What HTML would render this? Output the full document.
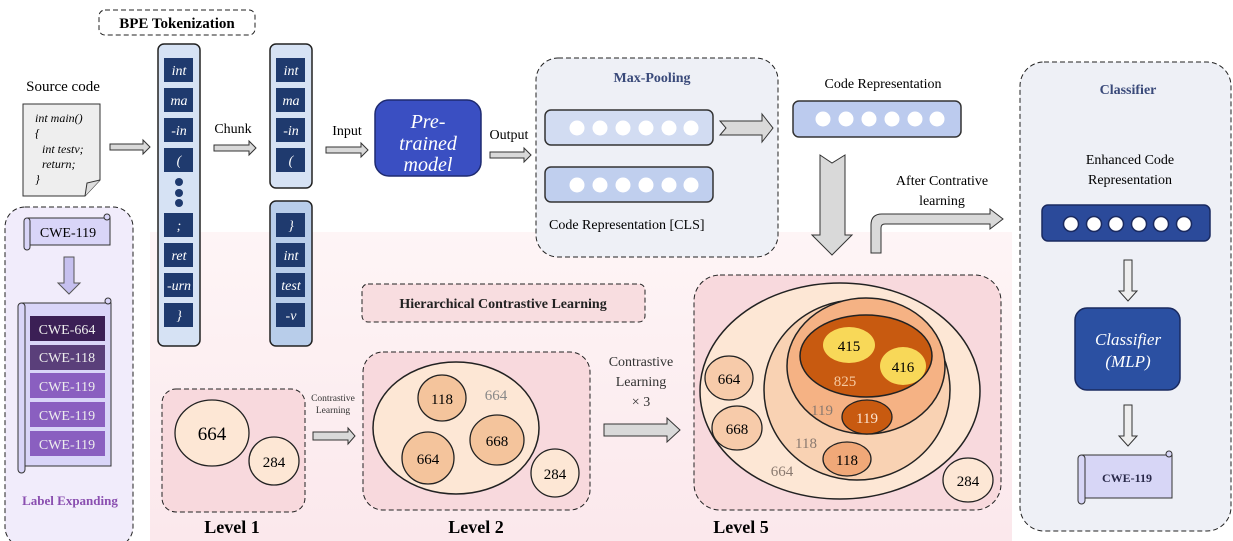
<!DOCTYPE html>
<html><head><meta charset="utf-8"><style>
html,body{margin:0;padding:0;background:#fff;}
svg{display:block;font-family:"Liberation Serif",serif;}
</style></head><body>
<svg width="1233" height="541" viewBox="0 0 1233 541" xmlns="http://www.w3.org/2000/svg">
<defs>
<linearGradient id="pk" x1="0" y1="0" x2="0" y2="1"><stop offset="0" stop-color="#fef5f6"/><stop offset="1" stop-color="#fbe8ec"/></linearGradient>
</defs>
<rect x="150" y="232" width="862" height="309" fill="url(#pk)"/>

<rect x="99" y="10" width="156" height="25" rx="6" fill="#fff" stroke="#222" stroke-dasharray="5,3"/>
<text x="177" y="28" font-size="15" font-weight="bold" text-anchor="middle">BPE Tokenization</text>

<text x="63" y="91" font-size="15" text-anchor="middle">Source code</text>
<path d="M23,104 H100 V180 L85,196 H23 Z" fill="#eeeeee" stroke="#333"/>
<path d="M100,180 L87,183 L85,196" fill="#ddd" stroke="#333"/>
<g font-size="12" font-style="italic">
<text x="35" y="122">int main()</text>
<text x="35" y="137">{</text>
<text x="42" y="153">int testv;</text>
<text x="42" y="168">return;</text>
<text x="35" y="183">}</text>
</g>
<polygon points="110,144 143,144 143,140 150,147 143,154 143,150 110,150" fill="#d9d9d9" stroke="#333"/>

<rect x="158" y="44" width="42" height="302" rx="6" fill="#d6e2f4" stroke="#222" stroke-width="1.5"/>
<g fill="#1f3a6e">
<rect x="164" y="58" width="29" height="24"/><rect x="164" y="88" width="29" height="24"/><rect x="164" y="118" width="29" height="24"/><rect x="164" y="148" width="29" height="24"/>
<circle cx="179" cy="182" r="4"/><circle cx="179" cy="193" r="4"/><circle cx="179" cy="203" r="4"/>
<rect x="164" y="213" width="29" height="24"/><rect x="164" y="243" width="29" height="24"/><rect x="164" y="273" width="29" height="24"/><rect x="164" y="303" width="29" height="24"/>
</g>
<g fill="#fff" font-size="14" font-style="italic" text-anchor="middle">
<text x="179" y="75">int</text><text x="179" y="105">ma</text><text x="179" y="135">-in</text><text x="179" y="165">(</text>
<text x="179" y="230">;</text><text x="179" y="260">ret</text><text x="179" y="290">-urn</text><text x="179" y="320">}</text>
</g>
<text x="233" y="133" font-size="14" text-anchor="middle">Chunk</text>
<polygon points="214,145 249,145 249,141 256,148 249,155 249,151 214,151" fill="#d9d9d9" stroke="#333"/>

<rect x="270" y="44" width="42" height="144" rx="6" fill="#d6e2f4" stroke="#222" stroke-width="1.5"/>
<rect x="270" y="201" width="42" height="145" rx="6" fill="#b8cdea" stroke="#222" stroke-width="1.5"/>
<g fill="#1f3a6e">
<rect x="276" y="58" width="29" height="24"/><rect x="276" y="88" width="29" height="24"/><rect x="276" y="118" width="29" height="24"/><rect x="276" y="148" width="29" height="24"/>
<rect x="276" y="213" width="29" height="24"/><rect x="276" y="243" width="29" height="24"/><rect x="276" y="273" width="29" height="24"/><rect x="276" y="303" width="29" height="24"/>
</g>
<g fill="#fff" font-size="14" font-style="italic" text-anchor="middle">
<text x="291" y="75">int</text><text x="291" y="105">ma</text><text x="291" y="135">-in</text><text x="291" y="165">(</text>
<text x="291" y="230">}</text><text x="291" y="260">int</text><text x="291" y="290">test</text><text x="291" y="320">-v</text>
</g>

<text x="347" y="135" font-size="14" text-anchor="middle">Input</text>
<polygon points="326,147 361,147 361,143 368,150 361,157 361,153 326,153" fill="#d9d9d9" stroke="#333"/>

<rect x="375" y="100" width="106" height="76" rx="14" fill="#3a4fc2" stroke="#1e2a70" stroke-width="1.5"/>
<g fill="#fff" font-size="20" font-style="italic" text-anchor="middle">
<text x="428" y="128">Pre-</text><text x="428" y="150">trained</text><text x="428" y="171">model</text>
</g>

<text x="509" y="139" font-size="14" text-anchor="middle">Output</text>
<polygon points="490,152 524,152 524,148 531,155 524,162 524,158 490,158" fill="#d9d9d9" stroke="#333"/>

<rect x="536" y="58" width="242" height="199" rx="22" fill="#eef0f6" stroke="#222" stroke-dasharray="5,3"/>
<text x="652" y="82" font-size="14" font-weight="bold" fill="#3a4a7a" text-anchor="middle">Max-Pooling</text>
<rect x="545" y="110" width="168" height="35" rx="6" fill="#d2dcf2" stroke="#333" stroke-width="1.5"/>
<rect x="545" y="167" width="168" height="35" rx="6" fill="#c0cfee" stroke="#333" stroke-width="1.5"/>
<g fill="#fff">
<circle cx="577" cy="128" r="7.5"/><circle cx="600" cy="128" r="7.5"/><circle cx="623" cy="128" r="7.5"/><circle cx="646" cy="128" r="7.5"/><circle cx="669" cy="128" r="7.5"/><circle cx="691" cy="128" r="7.5"/>
<circle cx="577" cy="185" r="7.5"/><circle cx="600" cy="185" r="7.5"/><circle cx="623" cy="185" r="7.5"/><circle cx="646" cy="185" r="7.5"/><circle cx="669" cy="185" r="7.5"/><circle cx="691" cy="185" r="7.5"/>
</g>
<text x="549" y="229" font-size="14">Code Representation [CLS]</text>
<polygon points="720,121 762,121 762,114 773,128 762,142 762,135 720,135 726,128" fill="#d9d9d9" stroke="#333"/>

<text x="883" y="88" font-size="14" text-anchor="middle">Code Representation</text>
<rect x="793" y="101" width="168" height="36" rx="6" fill="#bccbee" stroke="#333" stroke-width="1.5"/>
<g fill="#fff">
<circle cx="823" cy="119" r="7.5"/><circle cx="846" cy="119" r="7.5"/><circle cx="869" cy="119" r="7.5"/><circle cx="892" cy="119" r="7.5"/><circle cx="915" cy="119" r="7.5"/><circle cx="937" cy="119" r="7.5"/>
</g>
<polygon points="820,155 832,163 845,155 845,235 852,235 832,255 812,235 820,235" fill="#d9d9d9" stroke="#333"/>
<path d="M871,253 V225 Q871,214 882,214 H990 V209 L1003,219 L990,229 V224 H885 Q881,224 881,228 V253 Z" fill="#d9d9d9" stroke="#333"/>
<text x="942" y="185" font-size="14" text-anchor="middle">After Contrative</text>
<text x="942" y="205" font-size="14" text-anchor="middle">learning</text>

<rect x="1020" y="62" width="211" height="469" rx="24" fill="#eef0f6" stroke="#222" stroke-dasharray="5,3"/>
<text x="1128" y="94" font-size="14" font-weight="bold" fill="#3a4a7a" text-anchor="middle">Classifier</text>
<text x="1130" y="164" font-size="14" text-anchor="middle">Enhanced Code</text>
<text x="1130" y="184" font-size="14" text-anchor="middle">Representation</text>
<rect x="1042" y="205" width="168" height="36" rx="6" fill="#2b4a9a" stroke="#1a2a60" stroke-width="1.5"/>
<g fill="#fff" stroke="#1a2a60" stroke-width="1.5">
<circle cx="1071" cy="224" r="7.5"/><circle cx="1094" cy="224" r="7.5"/><circle cx="1116" cy="224" r="7.5"/><circle cx="1139" cy="224" r="7.5"/><circle cx="1161" cy="224" r="7.5"/><circle cx="1184" cy="224" r="7.5"/>
</g>
<polygon points="1124,260 1132,260 1132,291 1137,291 1128,301 1119,291 1124,291" fill="#eee" stroke="#333"/>
<rect x="1075" y="308" width="105" height="82" rx="12" fill="#2b50a2" stroke="#1a2a60" stroke-width="1.5"/>
<text x="1128" y="345" font-size="17" font-style="italic" fill="#fff" text-anchor="middle">Classifier</text>
<text x="1128" y="367" font-size="17" font-style="italic" fill="#fff" text-anchor="middle">(MLP)</text>
<polygon points="1124,405 1132,405 1132,436 1137,436 1128,446 1119,436 1124,436" fill="#eee" stroke="#333"/>
<rect x="1082" y="455" width="90" height="43" fill="#d7d6f6" stroke="#333"/>
<rect x="1078" y="455" width="7" height="49" rx="3.5" fill="#d7d6f6" stroke="#333"/>
<circle cx="1169" cy="454" r="3" fill="#d7d6f6" stroke="#333"/>
<text x="1127" y="482" font-size="12" font-weight="bold" fill="#2a2a4a" text-anchor="middle">CWE-119</text>

<rect x="5" y="207" width="128" height="340" rx="20" fill="#f1ecfb" stroke="#222" stroke-dasharray="5,3"/>
<rect x="28" y="218" width="82" height="27" fill="#d9d5f8" stroke="#333"/>
<rect x="24" y="218" width="6" height="32" rx="3" fill="#d9d5f8" stroke="#333"/>
<circle cx="107" cy="217" r="3" fill="#d9d5f8" stroke="#333"/>
<text x="68" y="237" font-size="14" text-anchor="middle">CWE-119</text>
<polygon points="64,257 74,257 74,283 80,283 69,294 58,283 64,283" fill="#c6c0ef" stroke="#555"/>
<rect x="22" y="303" width="89" height="163" fill="#d9d5f8" stroke="#333"/>
<rect x="18" y="303" width="7" height="170" rx="3.5" fill="#d9d5f8" stroke="#333"/>
<circle cx="108" cy="301" r="3" fill="#d9d5f8" stroke="#333"/>
<rect x="30" y="316" width="75" height="25" fill="#3b1f55"/>
<rect x="30" y="345" width="75" height="25" fill="#5a3f7a"/>
<rect x="30" y="373" width="75" height="25" fill="#8a5fc0"/>
<rect x="30" y="402" width="75" height="25" fill="#8a5fc0"/>
<rect x="30" y="431" width="75" height="25" fill="#8a5fc0"/>
<g fill="#eee" font-size="14" text-anchor="middle">
<text x="67" y="334">CWE-664</text><text x="67" y="362">CWE-118</text><text x="67" y="391">CWE-119</text><text x="67" y="420">CWE-119</text><text x="67" y="449">CWE-119</text>
</g>
<text x="70" y="505" font-size="13" font-weight="bold" fill="#8a4fb0" text-anchor="middle">Label Expanding</text>

<rect x="362" y="284" width="283" height="38" rx="6" fill="#f8dde0" stroke="#222" stroke-dasharray="5,3"/>
<text x="503" y="308" font-size="14" font-weight="bold" fill="#222" text-anchor="middle">Hierarchical Contrastive Learning</text>

<rect x="162" y="389" width="143" height="123" rx="14" fill="#f8d9dd" stroke="#222" stroke-dasharray="5,3"/>
<ellipse cx="212" cy="433" rx="37" ry="33" fill="#fde7d5" stroke="#222" stroke-width="1.3"/>
<ellipse cx="274" cy="461" rx="25" ry="24" fill="#fde7d5" stroke="#222" stroke-width="1.3"/>
<text x="212" y="440" font-size="19" text-anchor="middle">664</text>
<text x="274" y="467" font-size="15" text-anchor="middle">284</text>
<text x="232" y="533" font-size="18" font-weight="bold" text-anchor="middle">Level 1</text>
<text x="333" y="401" font-size="9.5" fill="#333" text-anchor="middle">Contrastive</text>
<text x="333" y="413" font-size="9.5" fill="#333" text-anchor="middle">Learning</text>
<polygon points="313,432 348,432 348,428 355,436 348,444 348,440 313,440" fill="#d9d9d9" stroke="#333"/>

<rect x="363" y="352" width="227" height="158" rx="20" fill="#f8d9dd" stroke="#222" stroke-dasharray="5,3"/>
<ellipse cx="456" cy="428" rx="83" ry="66" fill="#fde7d5" stroke="#222" stroke-width="1.5"/>
<g fill="#f4c49c" stroke="#222" stroke-width="1.3">
<ellipse cx="442" cy="398" rx="24" ry="23"/>
<ellipse cx="497" cy="440" rx="27" ry="25"/>
<ellipse cx="428" cy="458" rx="26" ry="26"/>
</g>
<ellipse cx="555" cy="473" rx="24" ry="24" fill="#fde7d5" stroke="#222" stroke-width="1.3"/>
<g font-size="15" text-anchor="middle">
<text x="442" y="404">118</text><text x="497" y="446">668</text><text x="428" y="464">664</text><text x="555" y="479">284</text>
<text x="496" y="400" fill="#888">664</text>
</g>
<text x="476" y="533" font-size="18" font-weight="bold" text-anchor="middle">Level 2</text>
<g font-size="14" fill="#333" text-anchor="middle">
<text x="641" y="366">Contrastive</text><text x="641" y="386">Learning</text><text x="641" y="406">× 3</text>
</g>
<polygon points="604,424 667,424 667,418 680,430 667,442 667,436 604,436" fill="#d9d9d9" stroke="#333"/>

<rect x="694" y="275" width="307" height="235" rx="26" fill="#f8d9dd" stroke="#222" stroke-dasharray="5,3"/>
<ellipse cx="840" cy="391" rx="140" ry="108" fill="#fde7d5" stroke="#222" stroke-width="1.5"/>
<ellipse cx="857" cy="390" rx="93" ry="90" fill="#f9d2b3" stroke="#222" stroke-width="1.5"/>
<ellipse cx="866" cy="366" rx="79" ry="68" fill="#f5b284" stroke="#222" stroke-width="1.5"/>
<ellipse cx="866" cy="356" rx="66" ry="41" fill="#c85a10" stroke="#222" stroke-width="1.5"/>
<ellipse cx="849" cy="345" rx="26" ry="18" fill="#f8d858"/>
<ellipse cx="903" cy="366" rx="23" ry="19" fill="#f8d858"/>
<ellipse cx="867" cy="417" rx="25" ry="17" fill="#c85a10" stroke="#222" stroke-width="1.3"/>
<ellipse cx="847" cy="459" rx="24" ry="17" fill="#f0a878" stroke="#222" stroke-width="1.3"/>
<ellipse cx="729" cy="378" rx="24" ry="22" fill="#f7cbaa" stroke="#222" stroke-width="1.3"/>
<ellipse cx="737" cy="428" rx="25" ry="22" fill="#f7cbaa" stroke="#222" stroke-width="1.3"/>
<ellipse cx="968" cy="480" rx="25" ry="22" fill="#fde7d5" stroke="#222" stroke-width="1.3"/>
<g font-size="15" text-anchor="middle">
<text x="849" y="351">415</text><text x="903" y="372">416</text>
<text x="845" y="386" fill="#f6c9a0">825</text>
<text x="867" y="423" fill="#fbe3d0">119</text>
<text x="822" y="415" fill="#8a7a70">119</text>
<text x="806" y="448" fill="#8a7a70">118</text>
<text x="847" y="465">118</text>
<text x="782" y="476" fill="#8a7a70">664</text>
<text x="729" y="384">664</text><text x="737" y="434">668</text><text x="968" y="486">284</text>
</g>
<text x="741" y="533" font-size="18" font-weight="bold" text-anchor="middle">Level 5</text>
</svg>
</body></html>
